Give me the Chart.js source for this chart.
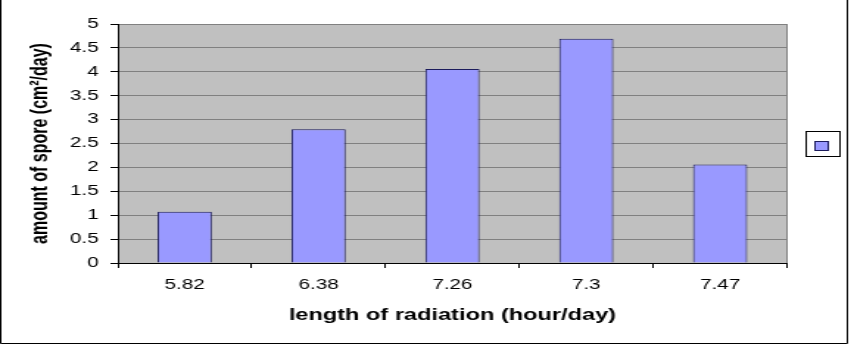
<!DOCTYPE html>
<html>
<head>
<meta charset="utf-8">
<script src="https://cdn.jsdelivr.net/npm/chart.js@4/dist/chart.umd.min.js"></script>
<style>
  html, body { margin: 0; padding: 0; background: #fff; overflow: hidden; }
  #c { display: block; width: 854px !important; height: 354px !important; }
</style>
</head>
<body>
<canvas id="c" width="580" height="354"></canvas>
<script>
const categories = ['5.82', '6.38', '7.26', '7.3', '7.47'];
const sporeValues = [1.07, 2.8, 4.06, 4.69, 2.06];
const yTicks = ['0', '0.5', '1', '1.5', '2', '2.5', '3', '3.5', '4', '4.5', '5'];
const xTitle = 'length of radiation (hour/day)';
const yTitle = 'amount of spore (cm\u00B2/day)';

const FONT = "Arial, 'Liberation Sans', sans-serif";

const decor = {
  id: 'decor',
  beforeDraw(chart) {
    const {ctx, chartArea: a} = chart;
    ctx.save();
    ctx.fillStyle = '#C0C0C0';
    ctx.fillRect(a.left, a.top, a.right - a.left, a.bottom - a.top);
    ctx.restore();
  },
  afterDatasetsDraw(chart) {
    const {ctx, chartArea: a} = chart;
    ctx.save();
    ctx.strokeStyle = '#808080';
    ctx.lineWidth = 1;
    ctx.beginPath();
    ctx.moveTo(Math.round(a.right) - 0.5, a.top);
    ctx.lineTo(Math.round(a.right) - 0.5, a.bottom);
    ctx.stroke();
    ctx.restore();
  },
  afterDraw(chart) {
    const {ctx} = chart;
    const ds = chart.data.datasets[0];
    ctx.save();
    // outer frame
    ctx.strokeStyle = '#000';
    ctx.lineWidth = 1;
    ctx.beginPath();
    ctx.moveTo(0.5, 0);
    ctx.lineTo(0.5, 343.5);
    ctx.lineTo(575.5, 343.5);
    ctx.lineTo(575.5, 0);
    ctx.stroke();
    // legend box
    ctx.strokeStyle = '#000';
    ctx.strokeRect(547.5, 131.5, 23, 25);
    ctx.fillStyle = ds.backgroundColor;
    ctx.fillRect(553.5, 141.5, 9, 9);
    ctx.strokeStyle = ds.borderColor;
    ctx.strokeRect(553.5, 141.5, 9, 9);
    ctx.restore();
  }
};

new Chart(document.getElementById('c'), {
  type: 'bar',
  data: {
    labels: categories,
    datasets: [{
      label: '',
      data: sporeValues,
      backgroundColor: '#9999FF',
      borderColor: '#1c1c5c',
      borderWidth: 1,
      categoryPercentage: 1,
      barPercentage: 0.405
    }]
  },
  options: {
    responsive: false,
    animation: false,
    devicePixelRatio: 1,
    layout: { padding: { left: 0, right: 45.5, top: 24, bottom: 0 } },
    plugins: { legend: { display: false }, tooltip: { enabled: false } },
    scales: {
      x: {
        afterFit(scale) { scale.height = 91; },
        grid: {
          display: true, drawOnChartArea: false, drawTicks: true,
          tickLength: 5, tickColor: '#000', offset: true
        },
        border: { display: true, color: '#000', width: 1 },
        ticks: { color: '#000', padding: 9, font: { family: FONT, size: 14 }, maxRotation: 0 },
        title: {
          display: true, text: xTitle, color: '#000',
          font: { family: FONT, size: 16, weight: 'bold' },
          padding: { top: 0, bottom: 29 }
        }
      },
      y: {
        min: 0, max: 5,
        afterFit(scale) { scale.width = 80; },
        afterBuildTicks(scale) {
          scale.ticks = yTicks.map(v => ({ value: parseFloat(v) }));
        },
        grid: {
          color: '#808080', lineWidth: 1, drawTicks: true,
          tickLength: 5, tickColor: '#000'
        },
        border: { display: true, color: '#000', width: 1 },
        ticks: {
          color: '#000', padding: 8, font: { family: FONT, size: 14 },
          callback: (v, i) => yTicks[i]
        },
        title: {
          display: true, text: yTitle, color: '#000',
          font: { family: FONT, size: 16, weight: 'bold' },
          padding: { top: 18, bottom: 0 }
        }
      }
    }
  },
  plugins: [decor]
});
</script>
</body>
</html>
